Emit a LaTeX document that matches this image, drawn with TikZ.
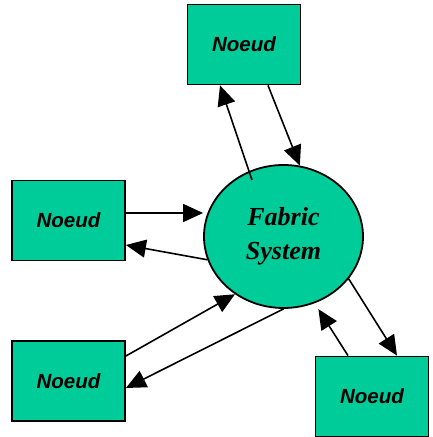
\documentclass[tikz,border=0pt]{standalone}
\usepackage{fontspec}
\setmainfont{Liberation Serif}
\newfontfamily\noeudfont{Liberation Sans}
\usepackage{xcolor}
\usepackage{tikz}
\usetikzlibrary{shapes.geometric, arrows.meta, calc}

\definecolor{noeudgreen}{RGB}{0,204,153}

\tikzset{
    noeud/.style={draw, line width=1.8pt, fill=noeudgreen, minimum width=113pt, minimum height=80pt,
        inner sep=0pt, font=\noeudfont\bfseries\itshape\fontsize{20.5}{24}\selectfont},
    fabric/.style={draw, line width=1.8pt, fill=noeudgreen, ellipse, minimum width=159pt, minimum height=143pt,
        inner sep=0pt, align=center, font=\bfseries\itshape\fontsize{26}{34}\selectfont},
    link/.style={line width=1.6pt, -{Triangle[length=20pt, width=18pt]}}
}

\begin{document}
\begin{tikzpicture}[x=1pt, y=1pt]
        \useasboundingbox (0,0) rectangle (432,437);

        \node (fabric) [fabric] at (283.5,200.5) {Fabric\\System};

        \node (top) [noeud] at (244,392.5) {Noeud};
        \node (left) [noeud] at (68.5,216.5) {Noeud};
        \node (bottomleft) [noeud] at (68.5,56) {Noeud};
        \node (bottomright) [noeud] at (372,40.5) {Noeud};

        % Lines
        \draw [link] ($(fabric.center)+(-31.5,56.5)$) -- ([xshift=-24pt]top.south);
        \draw [link] ([xshift=24pt]top.south) -- (fabric.77);
        \draw [link] ([yshift=7.5pt]left.east) -- ([yshift=7.5pt]left.east -| fabric.west);
        \draw [link] (fabric.197) -- ([yshift=-24.5pt]left.east);
        \draw [link] ([yshift=25pt]bottomleft.east) -- (fabric.230);
        \draw [link] (fabric.south) -- ([yshift=-7pt]bottomleft.east);
        \draw [link] (fabric.-33) -- ([xshift=25pt]bottomright.north);
        \draw [link, shorten >=7pt] ([xshift=-24pt]bottomright.north) -- (fabric.-65);

    \end{tikzpicture}
\end{document}
